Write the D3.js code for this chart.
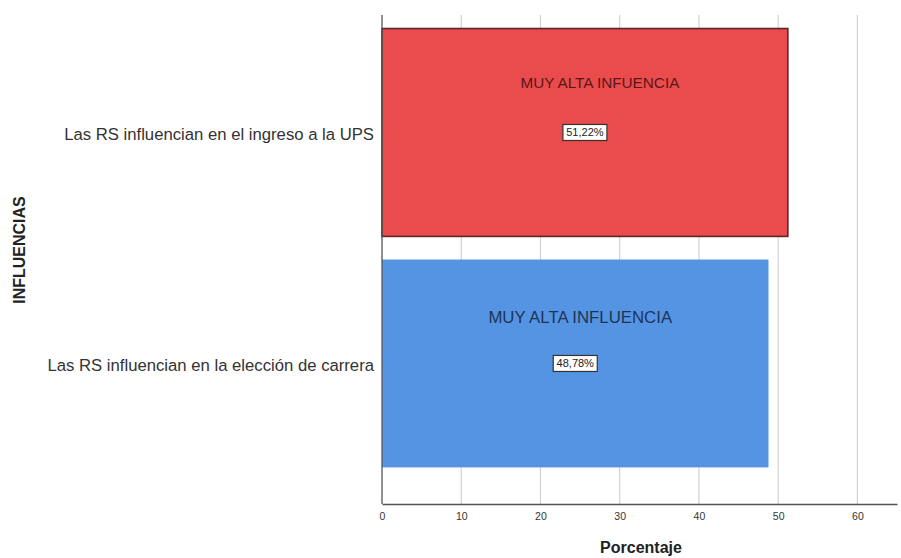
<!DOCTYPE html>
<html>
<head>
<meta charset="utf-8">
<script src="https://cdn.jsdelivr.net/npm/d3@7"></script>
<style>
  html, body { margin: 0; padding: 0; background: #ffffff; }
  svg { display: block; font-family: Arial, "Liberation Sans", sans-serif; }
</style>
</head>
<body>
<svg id="chart" width="901" height="558"></svg>
<script>
// Categories (top to bottom), their percentages and the text shown inside each bar
const categories = [
  "Las RS influencian en el ingreso a la UPS",
  "Las RS influencian en la elección de carrera"
];
const percentages = [51.22, 48.78];
const levelLabels = ["MUY ALTA INFUENCIA", "MUY ALTA INFLUENCIA"];
const barColors = ["#ea4b4d", "#5594e2"];
const barStrokes = ["#5e2626", "none"];
const levelTextColors = ["#5a1717", "#1c3559"];
const xTicks = [0, 10, 20, 30, 40, 50, 60];

const svg = d3.select("#chart");
const plotLeft = 382, plotRight = 897, plotTop = 15, plotBottom = 504;

const x = d3.scaleLinear().domain([0, 65]).range([plotLeft, plotRight]);
const y = d3.scaleBand()
  .domain(categories)
  .range([plotTop, plotBottom])
  .paddingInner(0.1)
  .paddingOuter(0.1085)
  .align(0.27);

// vertical grid lines
svg.append("g")
  .selectAll("line")
  .data(xTicks.filter(d => d > 0))
  .join("line")
  .attr("x1", d => x(d)).attr("x2", d => x(d))
  .attr("y1", plotTop).attr("y2", plotBottom)
  .attr("stroke", "#d2d2d2")
  .attr("stroke-width", 1.2);

// bars
svg.append("g")
  .selectAll("rect")
  .data(categories)
  .join("rect")
  .attr("x", x(0))
  .attr("y", d => y(d))
  .attr("width", (d, i) => x(percentages[i]) - x(0))
  .attr("height", y.bandwidth())
  .attr("fill", (d, i) => barColors[i])
  .attr("stroke", (d, i) => barStrokes[i])
  .attr("stroke-width", 1.6);

// axis lines
svg.append("line")
  .attr("x1", plotLeft).attr("x2", plotLeft)
  .attr("y1", plotTop).attr("y2", plotBottom)
  .attr("stroke", "#555").attr("stroke-width", 1.3);

const xAxis = svg.append("g")
  .attr("transform", `translate(0,${plotBottom})`)
  .call(d3.axisBottom(x).tickValues(xTicks).tickSize(0).tickPadding(9).tickFormat(d3.format("d")));
xAxis.select(".domain").attr("stroke", "#555").attr("stroke-width", 1.3);
xAxis.selectAll("text")
  .attr("font-family", "Arial, 'Liberation Sans', sans-serif")
  .attr("font-size", 10.5)
  .attr("fill", "#333");

// category labels
const yAxis = svg.append("g")
  .attr("transform", `translate(${plotLeft},2)`)
  .call(d3.axisLeft(y).tickSize(0).tickPadding(8));
yAxis.select(".domain").remove();
yAxis.selectAll("text")
  .attr("font-family", "Arial, 'Liberation Sans', sans-serif")
  .attr("font-size", 16.7)
  .attr("fill", "#333");

// level labels inside bars
const labelOffsets = [15, 5];
const labelFontSizes = [15.3, 16.8];
const labelDrop = [55, 59];
svg.append("g")
  .selectAll("text")
  .data(categories)
  .join("text")
  .attr("x", (d, i) => (x(0) + x(percentages[i])) / 2 + labelOffsets[i])
  .attr("y", (d, i) => y(d) + labelDrop[i])
  .attr("text-anchor", "middle")
  .attr("dominant-baseline", "middle")
  .attr("font-size", (d, i) => labelFontSizes[i])
  .attr("fill", (d, i) => levelTextColors[i])
  .text((d, i) => levelLabels[i]);

// value boxes
const fmt = v => v.toFixed(2).replace(".", ",") + "%";
const vg = svg.append("g")
  .selectAll("g")
  .data(categories)
  .join("g")
  .attr("transform", (d, i) =>
    `translate(${(x(0) + x(percentages[i])) / 2},${y(d) + y.bandwidth() * 0.5})`);
vg.append("rect")
  .attr("x", -22).attr("y", -8)
  .attr("width", 44).attr("height", 16)
  .attr("fill", "#ffffff")
  .attr("stroke", "#333")
  .attr("stroke-width", 1.2);
vg.append("text")
  .attr("text-anchor", "middle")
  .attr("dominant-baseline", "central")
  .attr("font-size", 11)
  .attr("fill", "#222")
  .text((d, i) => fmt(percentages[i]));

// axis titles
svg.append("text")
  .attr("x", 641)
  .attr("y", 553)
  .attr("text-anchor", "middle")
  .attr("font-size", 16)
  .attr("font-weight", "bold")
  .attr("fill", "#222")
  .text("Porcentaje");

svg.append("text")
  .attr("transform", `translate(25,250) rotate(-90)`)
  .attr("text-anchor", "middle")
  .attr("font-size", 16)
  .attr("font-weight", "bold")
  .attr("fill", "#222")
  .text("INFLUENCIAS");
</script>
</body>
</html>
